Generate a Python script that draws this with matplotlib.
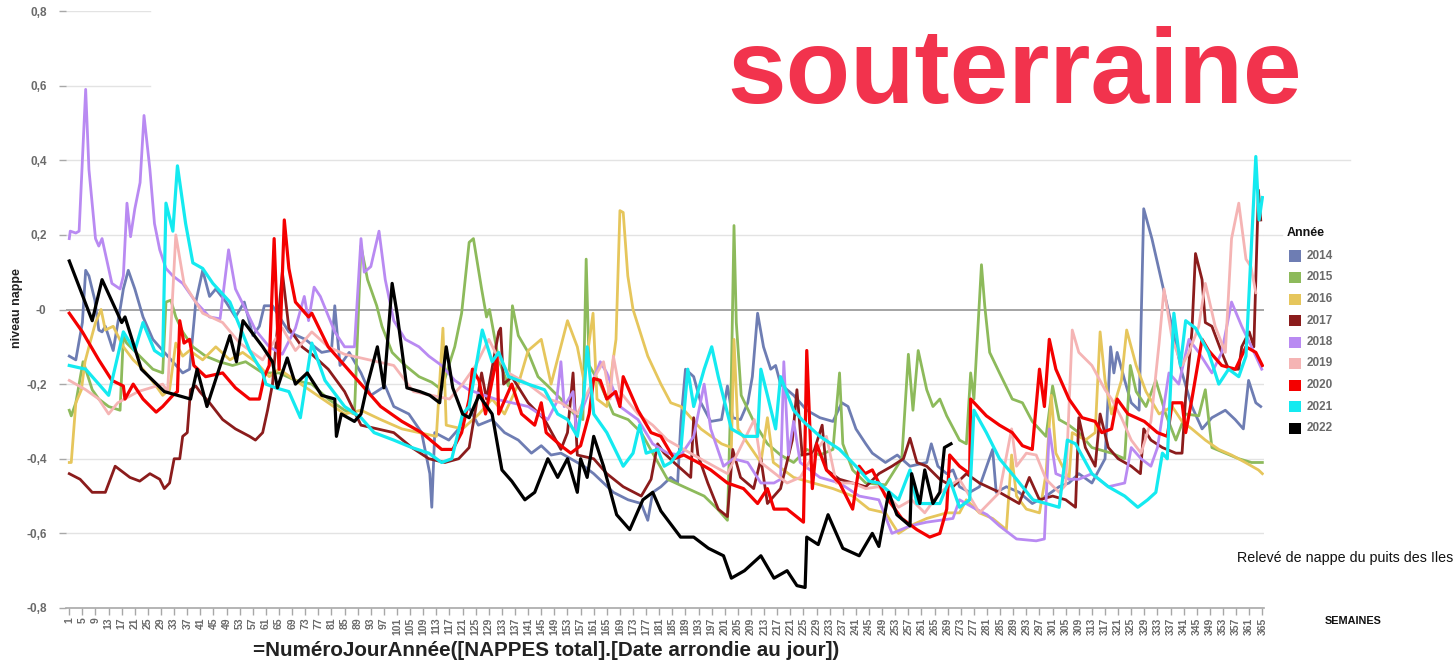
import matplotlib
matplotlib.use('Agg')
import matplotlib.pyplot as plt
from matplotlib.patches import Rectangle
from matplotlib.lines import Line2D

# ---------------- data (jour de l'année, niveau nappe) ----------------
annees = [2014, 2015, 2016, 2017, 2018, 2019, 2020, 2021, 2022]
couleurs = ['#6E7DB3', '#8DBA5B', '#E6C65C', '#8B1C1C', '#B98AF2',
            '#F5B4B4', '#F40000', '#14EAF0', '#000000']

niveau_2014 = [(1,-0.125),(3,-0.135),(5,-0.035),(6,0.105),(7,0.09),(8.8,0.025),(10,-0.055),(11,-0.06),(12,-0.045),(14.4,-0.11),(16.5,0.0),(17.5,0.055),(19,0.105),(21,0.055),(23.5,-0.02),(26.5,-0.08),(29.5,-0.11),(32.6,-0.14),(35.6,-0.17),(37.7,-0.16),(39.6,0.02),(41.7,0.105),(43.8,0.035),(45.7,0.055),(48.8,0.02),(51.7,-0.02),(54.4,0.02),(57,-0.07),(59,-0.045),(60.5,0.01),(63,0.01),(68,-0.06),(73,-0.08),(78,-0.115),(81,-0.11),(82,0.01),(83.6,-0.15),(86.4,-0.115),(90,-0.17),(93,-0.23),(97.4,-0.205),(100,-0.26),(104.6,-0.28),(108.5,-0.33),(111,-0.44),(111.6,-0.53),(112.5,-0.33),(116.8,-0.35),(119.8,-0.32),(122.8,-0.26),(125.8,-0.31),(130,-0.295),(133.8,-0.33),(138,-0.35),(142,-0.385),(145,-0.365),(148,-0.39),(151,-0.385),(154,-0.4),(158,-0.42),(161,-0.44),(164,-0.465),(167,-0.49),(171.5,-0.51),(175.5,-0.52),(177.5,-0.565),(179,-0.49),(181.5,-0.475),(184.5,-0.45),(186.6,-0.465),(187.6,-0.3),(189,-0.16),(191.5,-0.18),(193.7,-0.25),(196.7,-0.3),(200,-0.295),(201.8,-0.205),(203.4,-0.29),(205.8,-0.295),(208,-0.25),(209.4,-0.18),(211,-0.01),(212.8,-0.1),(215,-0.16),(216.5,-0.15),(218,-0.2),(222,-0.23),(226,-0.27),(230,-0.29),(234,-0.3),(236.7,-0.25),(238.6,-0.26),(241,-0.32),(244,-0.36),(246,-0.385),(250,-0.41),(253.6,-0.39),(257.5,-0.42),(262.6,-0.41),(264,-0.36),(266,-0.42),(268.7,-0.44),(270.6,-0.43),(272.6,-0.475),(275.7,-0.49),(278.7,-0.475),(282.7,-0.375),(283.8,-0.49),(286.9,-0.475),(290.8,-0.49),(294.8,-0.52),(299,-0.5),(303,-0.475),(306,-0.465),(309,-0.44),(313,-0.465),(317,-0.4),(318.7,-0.1),(319.7,-0.17),(320.7,-0.115),(323,-0.19),(325,-0.25),(327.4,-0.27),(328.8,0.27),(331.3,0.19),(334.4,0.07),(337.4,-0.045),(340.5,-0.17),(343.5,-0.26),(346.6,-0.32),(349.6,-0.29),(353.7,-0.27),(356.7,-0.295),(359.2,-0.32),(360.8,-0.19),(363,-0.25),(364.5,-0.26)]

niveau_2015 = [(1,-0.27),(1.6,-0.285),(3,-0.25),(5.2,-0.14),(6,-0.16),(8,-0.215),(10,-0.24),(13,-0.26),(16.5,-0.27),(17.5,-0.07),(18.5,-0.09),(22.5,-0.125),(26.5,-0.16),(29.5,-0.17),(30.5,0.02),(32,0.025),(33.5,-0.02),(35.6,-0.06),(38.7,-0.1),(42.6,-0.125),(46.8,-0.14),(50.8,-0.15),(54.8,-0.14),(60,-0.17),(65,-0.17),(70,-0.19),(75,-0.2),(80,-0.24),(85,-0.27),(88,-0.28),(90,0.17),(92,0.08),(94.8,0.01),(96.4,-0.045),(99.5,-0.115),(103.5,-0.15),(107.7,-0.18),(111.6,-0.195),(114.6,-0.215),(116.8,-0.15),(118.6,-0.1),(120.7,-0.01),(123,0.18),(124.3,0.19),(126.8,0.055),(128.3,-0.02),(129.2,0.0),(132,-0.135),(135,-0.205),(136.2,0.01),(138,-0.07),(141,-0.115),(144,-0.18),(147,-0.205),(151,-0.24),(155,-0.28),(157.7,-0.295),(158.7,0.135),(159.6,-0.15),(163,-0.2),(167,-0.28),(171.5,-0.295),(175.5,-0.33),(179,-0.385),(183.5,-0.455),(189.7,-0.48),(194.7,-0.5),(198.8,-0.535),(201.8,-0.565),(203,-0.18),(203.8,0.225),(204.5,-0.035),(206,-0.23),(209.8,-0.3),(214,-0.36),(218,-0.39),(222,-0.41),(226,-0.375),(230,-0.39),(234,-0.375),(236,-0.17),(237,-0.36),(240,-0.43),(244,-0.465),(250,-0.47),(255,-0.4),(257,-0.12),(258.4,-0.27),(260,-0.11),(262.6,-0.215),(264.5,-0.26),(266.6,-0.24),(268.7,-0.285),(272.6,-0.35),(274.7,-0.36),(276,-0.17),(277,-0.24),(279.3,0.12),(280.3,0.01),(281.8,-0.115),(284.8,-0.17),(288.7,-0.24),(291.8,-0.25),(294.8,-0.3),(299,-0.34),(301,-0.205),(303,-0.295),(306,-0.31),(309,-0.33),(313,-0.37),(319,-0.385),(323,-0.4),(324.7,-0.15),(326.5,-0.22),(329.5,-0.26),(332.5,-0.19),(335.5,-0.28),(338.6,-0.35),(341.6,-0.28),(345.6,-0.285),(347.6,-0.215),(349.6,-0.37),(353.7,-0.385),(357.8,-0.4),(361.7,-0.41),(365,-0.41)]

niveau_2016 = [(1,-0.41),(1.6,-0.41),(3,-0.25),(4.7,-0.215),(5.8,-0.14),(7.3,-0.09),(9,-0.035),(10.7,0.0),(12,-0.055),(14.4,-0.045),(17.5,-0.1),(20.5,-0.135),(23.5,-0.16),(27.5,-0.205),(29.5,-0.23),(31.6,-0.215),(33.5,-0.09),(35.6,-0.125),(37.7,-0.11),(41.7,-0.135),(45.7,-0.1),(50,-0.135),(53.9,-0.115),(57.8,-0.14),(62,-0.18),(65,-0.16),(70,-0.19),(75,-0.22),(80,-0.25),(85,-0.28),(90,-0.27),(96,-0.295),(102.5,-0.32),(107.7,-0.33),(113,-0.34),(115,-0.05),(116,-0.31),(121,-0.32),(126,-0.28),(130,-0.24),(133.8,-0.28),(138,-0.2),(141,-0.11),(145,-0.08),(148,-0.2),(153,-0.03),(156,-0.1),(158,-0.19),(160.8,-0.01),(162,-0.24),(165,-0.26),(167.8,-0.08),(169,0.265),(170,0.26),(171.4,0.09),(173,0.0),(177.5,-0.125),(181.5,-0.2),(184.5,-0.25),(187.6,-0.26),(193.7,-0.32),(200,-0.36),(203,-0.37),(203.8,-0.08),(205,-0.32),(212,-0.41),(214,-0.29),(215.8,-0.41),(222,-0.45),(228,-0.465),(234,-0.48),(240,-0.5),(245,-0.535),(250,-0.545),(254,-0.6),(257.5,-0.58),(262.6,-0.56),(268.7,-0.545),(272.6,-0.545),(274.7,-0.51),(278.7,-0.545),(282.7,-0.56),(286.9,-0.59),(288.5,-0.39),(290,-0.5),(293,-0.535),(297,-0.545),(299,-0.44),(300.6,-0.23),(302,-0.385),(306,-0.455),(307,-0.33),(311,-0.35),(314,-0.33),(315.5,-0.06),(317,-0.19),(319,-0.28),(322,-0.19),(323.6,-0.055),(326.5,-0.15),(329.5,-0.22),(333.5,-0.28),(337.5,-0.26),(340.5,-0.3),(343.5,-0.32),(347.6,-0.35),(351.7,-0.375),(355.6,-0.39),(359.8,-0.41),(363.8,-0.43),(365,-0.44)]

niveau_2017 = [(1,-0.44),(4.3,-0.455),(8,-0.49),(12,-0.49),(15,-0.42),(19.5,-0.45),(22.5,-0.46),(25.6,-0.44),(28.6,-0.455),(30,-0.48),(31.6,-0.465),(33,-0.4),(34.7,-0.4),(35.6,-0.34),(37,-0.33),(38,-0.215),(39.6,-0.205),(40.8,-0.22),(43.8,-0.25),(47.8,-0.295),(51.7,-0.32),(56,-0.34),(57.8,-0.35),(60,-0.33),(61.5,-0.27),(63,-0.2),(66,0.1),(68,-0.05),(72,-0.1),(75,-0.12),(80,-0.16),(85,-0.22),(90,-0.31),(100,-0.33),(105.5,-0.37),(110.7,-0.4),(115.6,-0.41),(119.8,-0.4),(123,-0.37),(126.8,-0.17),(128.3,-0.24),(132,-0.06),(132.6,-0.05),(133.5,-0.2),(136,-0.18),(141,-0.25),(146,-0.295),(151,-0.375),(153,-0.33),(154.7,-0.17),(156,-0.39),(161,-0.4),(165,-0.44),(170,-0.475),(175.5,-0.5),(178.5,-0.455),(180.5,-0.36),(182.5,-0.385),(185.5,-0.41),(190.6,-0.45),(191.5,-0.29),(192.8,-0.39),(195.8,-0.465),(199,-0.535),(201.8,-0.555),(203.4,-0.375),(205.8,-0.45),(209.8,-0.48),(212,-0.4),(214,-0.52),(218,-0.48),(221.6,-0.35),(223,-0.215),(224.6,-0.39),(228,-0.385),(230.7,-0.31),(232,-0.43),(236,-0.455),(240,-0.465),(244,-0.475),(248,-0.44),(252,-0.42),(255.5,-0.4),(257.5,-0.345),(259.6,-0.41),(262.6,-0.42),(266.6,-0.455),(270.6,-0.475),(274.7,-0.44),(278.7,-0.465),(284.8,-0.49),(290.8,-0.52),(293.9,-0.45),(297,-0.51),(301,-0.5),(305,-0.51),(308,-0.53),(309,-0.29),(311,-0.37),(314,-0.42),(315.5,-0.28),(318,-0.37),(321,-0.4),(325,-0.42),(327.8,-0.44),(328.8,-0.32),(331,-0.35),(334.5,-0.37),(338.6,-0.385),(340.5,-0.385),(341.6,-0.235),(343.5,-0.06),(344.6,0.15),(346.6,0.08),(347.6,-0.035),(349.6,-0.045),(352.6,-0.115),(354.7,-0.16),(357.8,-0.16),(358.7,-0.1),(361,-0.06),(362.4,-0.1),(363.8,0.32),(364.5,0.24)]

niveau_2018 = [(1,0.19),(1.3,0.21),(3,0.205),(4,0.21),(6,0.59),(7,0.375),(9,0.19),(10,0.17),(11,0.19),(14,0.07),(16.5,0.055),(17.5,0.09),(18.6,0.285),(19.7,0.195),(21,0.27),(22.6,0.34),(23.8,0.52),(25.6,0.375),(27,0.23),(28.6,0.16),(30.5,0.11),(32.6,0.09),(35.6,0.07),(39.6,0.02),(43.8,-0.02),(47,-0.025),(49.6,0.16),(51.7,0.055),(54.8,0.0),(57.8,-0.055),(62,-0.1),(66,-0.12),(70,-0.05),(72.7,0.035),(74,-0.03),(75.7,0.06),(77.6,0.035),(82,-0.06),(85,-0.1),(88,-0.1),(90,0.19),(91,0.1),(93,0.115),(95.5,0.21),(97.4,0.08),(100,-0.03),(103.5,-0.08),(107.7,-0.1),(110.7,-0.125),(114.6,-0.15),(118.6,-0.19),(122.8,-0.215),(131,-0.24),(141,-0.26),(147,-0.295),(149.6,-0.25),(151,-0.14),(152,-0.26),(154.7,-0.22),(155.7,-0.33),(157,-0.28),(163,-0.14),(165,-0.17),(169,-0.26),(174.5,-0.295),(179,-0.36),(183.5,-0.385),(187.6,-0.39),(191.5,-0.34),(194.7,-0.2),(196.7,-0.32),(200.6,-0.42),(203.6,-0.4),(208,-0.41),(212,-0.465),(216,-0.465),(218,-0.455),(219,-0.14),(220.4,-0.39),(222,-0.3),(224,-0.41),(230,-0.45),(236,-0.465),(242,-0.5),(248,-0.51),(252,-0.6),(257.5,-0.58),(262.6,-0.57),(270.6,-0.56),(272.6,-0.51),(276.6,-0.53),(281,-0.55),(284.8,-0.58),(290,-0.615),(296,-0.62),(298.5,-0.615),(300,-0.32),(302,-0.44),(306,-0.455),(309,-0.455),(313,-0.44),(318,-0.475),(323,-0.465),(325,-0.37),(328,-0.4),(331,-0.42),(333,-0.37),(336.5,-0.17),(339.5,-0.2),(342.6,-0.08),(345.6,-0.115),(349.6,-0.17),(352.6,-0.115),(355.6,0.02),(358.7,-0.045),(361.7,-0.1),(364.8,-0.16)]

niveau_2019 = [(1,-0.19),(6,-0.215),(10,-0.24),(13,-0.28),(15.8,-0.25),(22,-0.22),(29.5,-0.2),(31,-0.22),(33.5,0.2),(36,0.07),(41.7,-0.01),(47.8,-0.035),(53,-0.09),(60,-0.135),(66,-0.05),(70,-0.11),(75,-0.06),(80,-0.1),(85,-0.12),(90,-0.13),(100,-0.15),(106,-0.22),(117,-0.24),(121,-0.2),(125,-0.15),(129,-0.08),(131,-0.115),(135,-0.17),(141,-0.2),(147,-0.24),(151,-0.25),(156,-0.28),(162,-0.17),(164,-0.14),(166,-0.24),(167,-0.125),(169,-0.22),(174.5,-0.28),(179,-0.31),(183.5,-0.35),(191.5,-0.39),(201.8,-0.44),(210,-0.295),(212,-0.41),(220,-0.465),(224,-0.45),(228,-0.39),(232,-0.34),(235,-0.465),(240,-0.465),(244,-0.48),(248,-0.475),(254,-0.53),(258,-0.51),(262,-0.545),(266.6,-0.49),(272.6,-0.455),(278.7,-0.545),(284.8,-0.49),(288.5,-0.32),(290,-0.42),(293,-0.385),(296,-0.39),(299,-0.455),(303,-0.49),(305,-0.47),(307,-0.055),(309,-0.115),(313,-0.15),(317,-0.215),(319,-0.24),(322,-0.29),(325,-0.35),(328,-0.385),(331,-0.3),(333.5,-0.09),(335,0.055),(337.5,-0.08),(340.5,-0.15),(342.6,-0.115),(345.6,-0.045),(347.6,0.07),(350.6,-0.045),(353.7,-0.115),(355.6,0.19),(357.8,0.285),(360,0.135),(361.5,0.115),(363,0.045)]

niveau_2020 = [(1,-0.01),(5,-0.06),(10,-0.135),(14,-0.19),(17.5,-0.205),(18,-0.24),(20.5,-0.2),(23.5,-0.24),(27.5,-0.275),(29.5,-0.26),(32.6,-0.23),(34,-0.22),(34.7,-0.03),(36,-0.09),(37.7,-0.08),(39,-0.15),(42.6,-0.18),(47.8,-0.17),(51.7,-0.21),(56,-0.24),(59,-0.24),(60.5,-0.18),(62,-0.15),(63.5,0.19),(65,-0.16),(66.6,0.24),(68,0.11),(70,0.02),(74,-0.02),(75,-0.01),(80,-0.1),(85,-0.15),(90,-0.2),(96,-0.26),(102.5,-0.3),(108.5,-0.33),(114.6,-0.375),(118,-0.375),(120.7,-0.33),(123,-0.24),(124,-0.16),(126,-0.19),(128,-0.28),(131.5,-0.125),(132,-0.28),(136,-0.2),(139,-0.28),(143,-0.31),(145,-0.25),(146.5,-0.33),(151,-0.365),(154,-0.385),(157,-0.365),(159.6,-0.28),(161,-0.185),(163,-0.19),(165,-0.24),(167.7,-0.22),(169,-0.26),(170,-0.18),(174.5,-0.27),(178.5,-0.33),(181.5,-0.34),(185.5,-0.4),(188.5,-0.39),(192.8,-0.41),(196.7,-0.43),(201.8,-0.465),(206.7,-0.48),(211,-0.52),(214,-0.48),(216,-0.535),(220,-0.535),(225,-0.57),(226,-0.11),(227.7,-0.48),(229,-0.36),(232,-0.43),(236,-0.465),(240,-0.535),(242,-0.42),(243.8,-0.44),(246,-0.43),(250,-0.5),(255,-0.56),(259.6,-0.59),(263.5,-0.61),(266.6,-0.6),(268.7,-0.535),(269.6,-0.39),(272.6,-0.42),(275.7,-0.44),(276,-0.24),(280.8,-0.285),(284.8,-0.31),(288.7,-0.33),(291.8,-0.365),(294.8,-0.375),(297,-0.16),(298.5,-0.26),(300,-0.08),(302,-0.16),(306,-0.24),(310,-0.29),(314,-0.3),(316,-0.33),(319,-0.32),(320.7,-0.24),(324,-0.28),(329,-0.3),(333,-0.33),(336,-0.34),(337.5,-0.25),(340.5,-0.25),(341.6,-0.33),(343.5,-0.24),(346.6,-0.08),(348.6,-0.11),(352.6,-0.15),(356.8,-0.16),(360,-0.1),(363,-0.115),(365,-0.15)]

niveau_2021 = [(1,-0.15),(6,-0.16),(13,-0.23),(17.5,-0.06),(21,-0.11),(23.5,-0.035),(27,-0.11),(29.5,-0.125),(30.5,0.285),(32.6,0.21),(34,0.385),(36.5,0.23),(38.7,0.125),(41.7,0.11),(44.8,0.07),(50,0.02),(56,-0.11),(60,-0.17),(61,-0.2),(64,-0.21),(68,-0.22),(71.5,-0.29),(75,-0.09),(79,-0.19),(85,-0.26),(90,-0.29),(94,-0.33),(100,-0.35),(105.5,-0.37),(110.7,-0.385),(114.6,-0.41),(117.7,-0.4),(121,-0.28),(123,-0.26),(127,-0.055),(130,-0.14),(132,-0.115),(135,-0.18),(141,-0.2),(146,-0.215),(150,-0.28),(153,-0.295),(156,-0.34),(158,-0.23),(159,-0.1),(161,-0.28),(165,-0.33),(170,-0.42),(173,-0.385),(175,-0.31),(177,-0.385),(180.5,-0.375),(182.5,-0.42),(184.5,-0.41),(187.6,-0.375),(189.7,-0.16),(191.5,-0.26),(194.7,-0.16),(197,-0.1),(199,-0.18),(203,-0.32),(207,-0.34),(211,-0.34),(212,-0.16),(214,-0.23),(216.5,-0.32),(218,-0.18),(222,-0.27),(225,-0.3),(230,-0.34),(236,-0.375),(241,-0.42),(245,-0.46),(248,-0.465),(254,-0.51),(257.5,-0.43),(259.6,-0.52),(266.6,-0.52),(269.6,-0.455),(272.6,-0.53),(275.7,-0.51),(277,-0.27),(280.8,-0.33),(284.8,-0.4),(290,-0.455),(295,-0.51),(299,-0.52),(303,-0.53),(305.5,-0.35),(308,-0.36),(313,-0.44),(318,-0.475),(323,-0.5),(327,-0.53),(330,-0.51),(332.5,-0.49),(334.5,-0.385),(336,-0.4),(338,-0.01),(340,-0.15),(341.6,-0.03),(344.6,-0.05),(348.6,-0.115),(351.7,-0.2),(354.7,-0.16),(357.8,-0.18),(360,-0.125),(363,0.41),(364,0.24),(365,0.3)]

niveau_2022 = [(1,0.13),(8,-0.03),(11,0.08),(17,-0.035),(18,-0.02),(23,-0.16),(30,-0.22),(38,-0.24),(40,-0.16),(43,-0.26),(50,-0.07),(52,-0.14),(54,-0.03),(60,-0.1),(63,-0.14),(64.5,-0.21),(67.5,-0.13),(70,-0.2),(73.6,-0.17),(78,-0.23),(82,-0.24),(82.5,-0.34),(84,-0.28),(88,-0.3),(90,-0.28),(92,-0.2),(95,-0.1),(97,-0.21),(99.5,0.07),(101,-0.01),(104,-0.21),(108,-0.22),(111,-0.23),(114,-0.25),(116,-0.1),(118,-0.21),(121,-0.28),(123,-0.29),(126,-0.23),(130,-0.28),(133,-0.43),(136,-0.46),(140,-0.51),(143,-0.49),(147,-0.4),(150,-0.45),(153,-0.4),(156,-0.49),(157,-0.4),(159,-0.45),(161,-0.34),(164,-0.42),(168,-0.55),(172,-0.59),(176,-0.51),(179,-0.49),(181.5,-0.54),(187.5,-0.61),(191.5,-0.61),(196,-0.64),(200.6,-0.66),(203,-0.72),(207,-0.7),(212,-0.66),(216,-0.72),(220,-0.7),(223,-0.74),(225.5,-0.745),(226,-0.61),(229.5,-0.63),(232.5,-0.55),(237,-0.64),(242,-0.66),(246,-0.6),(248,-0.635),(251,-0.49),(253.5,-0.55),(257.5,-0.58),(258,-0.44),(260.5,-0.52),(262,-0.43),(264.5,-0.52),(266.6,-0.49),(268,-0.37),(270,-0.36)]

series = [niveau_2014, niveau_2015, niveau_2016, niveau_2017, niveau_2018,
          niveau_2019, niveau_2020, niveau_2021, niveau_2022]

jours_ticks = list(range(1, 366, 4))
niveau_ticks = [0.8, 0.6, 0.4, 0.2, 0.0, -0.2, -0.4, -0.6, -0.8]
niveau_labels = ['0,8', '0,6', '0,4', '0,2', '-0', '-0,2', '-0,4', '-0,6', '-0,8']

titre = 'souterraine'
xlabel = '=NuméroJourAnnée([NAPPES total].[Date arrondie au jour])'
ylabel = 'niveau nappe'
legende_titre = 'Année'
note = 'Relevé de nappe du puits des Iles'
semaines = 'SEMAINES'

# ---------------- figure ----------------
W, H = 1456, 660
plt.rcParams['font.family'] = ['Liberation Sans', 'DejaVu Sans']
fig = plt.figure(figsize=(W / 100, H / 100), dpi=100)
fig.patch.set_facecolor('white')

ax_l, ax_r, ax_t, ax_b = 66, 1264, 11, 608
ax = fig.add_axes([ax_l / W, 1 - ax_b / H, (ax_r - ax_l) / W, (ax_b - ax_t) / H])
ax.set_xlim(0, 365.5)
ax.set_ylim(-0.8, 0.8)

# grid
for v in niveau_ticks:
    if v == 0:
        ax.axhline(v, color='#8c8c8c', lw=1.1, zorder=1)
    elif v >= 0.6:
        ax.axhline(v, xmin=0, xmax=(150 - ax_l) / (ax_r - ax_l), color='#e3e3e3', lw=1.0, zorder=0)
    elif v > -0.8:
        ax.axhline(v, color='#e3e3e3', lw=1.0, zorder=0)

# gridline extensions to the right of the plotting area (as in the screenshot)
for v, xend in ((0.4, 1350), (0.2, 1282)):
    ax.plot([1.0, (xend - ax_l) / (ax_r - ax_l)], [v, v],
            transform=ax.get_yaxis_transform(), color='#e3e3e3', lw=1.0,
            clip_on=False, zorder=0)

for s, c, yr in zip(series, couleurs, annees):
    xs = [p[0] for p in s]
    ys = [p[1] for p in s]
    lw = 2.3 if yr in (2022, 2020, 2021) else 2.0
    ax.plot(xs, ys, color=c, lw=lw, solid_joinstyle='round', zorder=2)

for sp in ['top', 'right', 'left']:
    ax.spines[sp].set_visible(False)
ax.spines['bottom'].set_color('#a8a8a8')
ax.spines['bottom'].set_linewidth(1.2)

tick_col = '#6a6a6a'
ax.set_xticks(jours_ticks)
ax.set_xticklabels([str(j) for j in jours_ticks], rotation=90, fontsize=7.5,
                   fontweight='bold', color=tick_col)
ax.set_yticks(niveau_ticks)
ax.set_yticklabels(niveau_labels, fontsize=8.5, fontweight='bold', color=tick_col)
ax.tick_params(axis='x', length=5, width=1, color='#a8a8a8', pad=2)
ax.tick_params(axis='y', length=5, width=1, color='#a8a8a8', pad=9)

fig.text(17 / W, 1 - 308 / H, ylabel, rotation=90, ha='center', va='center',
         fontsize=9, fontweight='bold', color='#222222')


def fit_text(x0, x1, y, s, va='center', **kw):
    t = fig.text(x0 / W, 1 - y / H, s, ha='left', va=va, **kw)
    r = fig.canvas.get_renderer()
    bb = t.get_window_extent(r)
    t.set_fontsize(t.get_fontsize() * (x1 - x0) / bb.width)
    return t


fit_text(253, 840, 650, xlabel, fontsize=9, fontweight='bold', color='#222222')
fit_text(727, 1302, 103, titre, va='baseline', fontsize=70, fontweight='bold', color='#F2334D')
fit_text(1237, 1453, 558, note, fontsize=9, color='#111111')
fit_text(1325, 1382, 621, semaines, fontsize=7.5, fontweight='bold', color='#111111')

# legend
fig.text(1287 / W, 1 - 233 / H, legende_titre, ha='left', va='center',
         fontsize=9, fontweight='bold', color='#111111')
for i, (yr, c) in enumerate(zip(annees, couleurs)):
    yc = 256 + i * 21.5
    fig.add_artist(Rectangle((1289 / W, 1 - (yc + 5.5) / H), 11.5 / W, 11 / H,
                             transform=fig.transFigure, facecolor=c, edgecolor='none'))
    fig.text(1307 / W, 1 - yc / H, str(yr), ha='left', va='center',
             fontsize=8.5, fontweight='bold', color='#6a6a6a')

fig.savefig('out.png', dpi=100, facecolor='white')
